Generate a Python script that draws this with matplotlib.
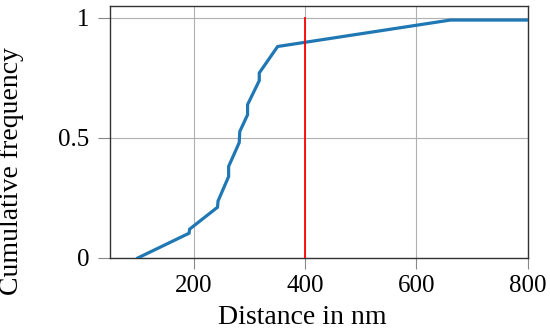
import matplotlib
matplotlib.use("Agg")
import matplotlib.pyplot as plt

distance_nm = [100, 192, 193, 243, 244, 263, 263, 282, 283, 297, 297, 318, 318, 351, 661, 800]
cum_freq = [0.0, 0.103, 0.12, 0.211, 0.237, 0.339, 0.381, 0.48, 0.526, 0.596, 0.638, 0.738, 0.77, 0.88, 0.99, 0.99]
threshold_nm = 400
x_ticks = [200, 400, 600, 800]
y_ticks = [0, 0.5, 1]
y_tick_labels = ["0", "0.5", "1"]

plt.rcParams['font.family'] = ['Liberation Serif', 'DejaVu Serif']
fig = plt.figure(figsize=(5.5, 3.32), dpi=100)
ax = fig.add_axes([0.2, 0.223, 0.7595, 0.760])

ax.plot(distance_nm, cum_freq, color='#1f77b4', lw=2.3, solid_joinstyle='miter', zorder=3)
ax.plot([threshold_nm, threshold_nm], [0, 1], color='red', lw=1.3, zorder=4)

ax.set_xlim(50, 800)
ax.set_ylim(0, 1.05)
ax.set_xticks(x_ticks)
ax.set_yticks(y_ticks)
ax.set_yticklabels(y_tick_labels)
ax.grid(True, color='#b0b0b0', lw=0.8)
ax.set_axisbelow(True)
ax.tick_params(direction='out', length=8, width=0.8, color='#888888', labelsize=18, pad=4)
ax.tick_params(axis='y', length=9, pad=6)
for s in ax.spines.values():
    s.set_color('#333333')
    s.set_linewidth(1.0)

ax.set_xlabel('Distance in nm', fontsize=20, labelpad=6)
ax.xaxis.label.set_x(0.461)
ax.set_ylabel('Cumulative frequency', fontsize=20, va='center')
ax.yaxis.set_label_coords(-0.235, 0.345)

fig.savefig('out.png', dpi=100)
